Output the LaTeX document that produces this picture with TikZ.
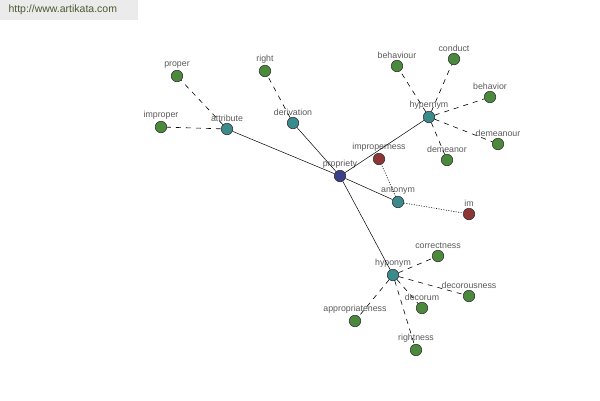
\documentclass[tikz,border=0pt]{standalone}
\usepackage{fontspec}
\setmainfont{Liberation Sans}
\usetikzlibrary{positioning}

\definecolor{hubcol}{HTML}{3B8B8C}
\definecolor{leafcol}{HTML}{4B8A3C}
\definecolor{antcol}{HTML}{8E3636}
\definecolor{rootcol}{HTML}{3A3F8A}
\definecolor{markcol}{HTML}{4A5A30}

\tikzset{
  word/.style={circle, draw=black!80, line width=0.6pt, minimum size=11.5pt, inner sep=0pt,
    label={[lbl]above:#1}},
  lbl/.style={inner sep=0pt, label distance=1.5pt, font=\fontsize{8.8}{9}\selectfont, text=black!65},
  root/.style={word=#1, fill=rootcol},
  hub/.style={word=#1, fill=hubcol},
  leaf/.style={word=#1, fill=leafcol},
  anto/.style={word=#1, fill=antcol},
  rel/.style={line width=0.5pt},
  syn/.style={line width=0.6pt, dash pattern=on 5pt off 5pt},
  opp/.style={line width=0.6pt, dash pattern=on 1pt off 1.5pt}
}

\begin{document}
\begin{tikzpicture}[x=1pt, y=-1pt]
    \useasboundingbox (0,0) rectangle (600,400);
    \fill[black!8] (0,0) rectangle (138,20);
    \node[text=markcol, font=\fontsize{10.5}{11}\selectfont, anchor=west] (site) at (5,10) {http://www.artikata.com};

    \node[root=propriety] (propriety) at (340,176) {};
    \node[hub=attribute] (attribute) at (227,129) {};
    \node[hub=derivation] (derivation) at (293,123) {};
    \node[hub=hypernym] (hypernym) at (429,117) {};
    \node[hub=antonym] (antonym) at (398,202) {};
    \node[hub=hyponym] (hyponym) at (393,275) {};

    \node[leaf=proper] (proper) at (177,76) {};
    \node[leaf=improper] (improper) at (161,127) {};
    \node[leaf=right] (right) at (265,71) {};
    \node[leaf=behaviour] (behaviour) at (397,66) {};
    \node[leaf=conduct] (conduct) at (454,59) {};
    \node[leaf=behavior] (behavior) at (490,97) {};
    \node[leaf=demeanour] (demeanour) at (498,144) {};
    \node[leaf=demeanor] (demeanor) at (447,160) {};
    \node[anto=improperness] (improperness) at (379,159) {};
    \node[anto=im] (im) at (469,214) {};
    \node[leaf=correctness] (correctness) at (438,256) {};
    \node[leaf=decorousness] (decorousness) at (469,296) {};
    \node[leaf=decorum] (decorum) at (422,308) {};
    \node[leaf=appropriateness] (appropriateness) at (355,321) {};
    \node[leaf=rightness] (rightness) at (416,350) {};

    % main relations
    \path[rel] (propriety) edge (attribute)
               (propriety) edge (derivation)
               (propriety) edge (hypernym)
               (propriety) edge (antonym)
               (propriety) edge (hyponym);

    % words
    \path[syn] (attribute) edge (proper)
               (attribute) edge (improper)
               (derivation) edge (right);
    \path[syn] (hypernym) edge (behaviour)
               (hypernym) edge (conduct)
               (hypernym) edge (behavior)
               (hypernym) edge (demeanour)
               (hypernym) edge (demeanor);
    \path[syn] (hyponym) edge (correctness)
               (hyponym) edge (decorousness)
               (hyponym) edge (decorum)
               (hyponym) edge (appropriateness)
               (hyponym) edge (rightness);

    \path[opp] (antonym) edge (improperness)
               (antonym) edge (im);
\end{tikzpicture}
\end{document}
